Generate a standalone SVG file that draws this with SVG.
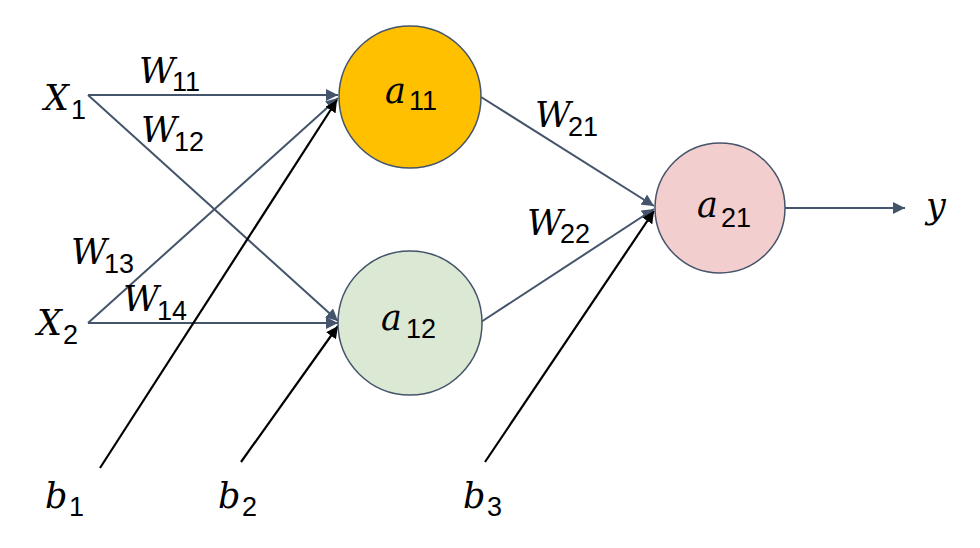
<svg xmlns="http://www.w3.org/2000/svg" width="980" height="548" viewBox="0 0 980 548">
<defs>
<marker id="ag" viewBox="0 0 10 10" refX="10" refY="5" markerWidth="12" markerHeight="12" markerUnits="userSpaceOnUse" orient="auto"><path d="M0,0 L10,5 L0,10 z" fill="#44546A"/></marker>
<marker id="ak" viewBox="0 0 10 10" refX="10" refY="5" markerWidth="12" markerHeight="12" markerUnits="userSpaceOnUse" orient="auto"><path d="M0,0 L10,5 L0,10 z" fill="#000"/></marker>
</defs>
<style>
.c{stroke:#44546A;stroke-width:2;fill:none;marker-end:url(#ag)}
.k{stroke:#000;stroke-width:2.2;fill:none;marker-end:url(#ak)}
.n{stroke:#44546A;stroke-width:1.5}
.v{font-family:"DejaVu Serif",serif;font-style:italic;font-size:35px;fill:#000}
.s{font-family:"Liberation Sans",sans-serif;font-style:normal;font-size:27px}
</style>
<rect width="980" height="548" fill="#fff"/>
<g id="connectors">
<line class="c" x1="88" y1="95" x2="338" y2="95"/>
<line class="c" x1="88" y1="95" x2="338" y2="321"/>
<line class="c" x1="88" y1="323" x2="338" y2="98"/>
<line class="c" x1="88" y1="323" x2="338" y2="323"/>
<line class="k" x1="100" y1="468" x2="337" y2="100"/>
<line class="k" x1="241" y1="462" x2="338" y2="326"/>
<line class="c" x1="481" y1="97" x2="654" y2="206"/>
<line class="c" x1="481" y1="322" x2="654" y2="209"/>
<line class="k" x1="485" y1="462" x2="654" y2="211"/>
<line class="c" x1="785" y1="208" x2="905" y2="208"/>
</g>
<g id="a11"><circle class="n" cx="410" cy="97" r="71" fill="#FFC000"/><text class="v" x="385" y="103">a<tspan class="s" x="409" y="110">11</tspan></text></g>
<g id="a12"><circle class="n" cx="410" cy="323" r="72" fill="#DAE8D4"/><text class="v" x="381" y="330">a<tspan class="s" x="406" y="338">12</tspan></text></g>
<g id="a21"><circle class="n" cx="720" cy="208" r="65" fill="#F2CECE"/><text class="v" x="697" y="217">a<tspan class="s" x="721" y="227">21</tspan></text></g>
<g id="X1"><text class="v" x="44" y="110">X<tspan class="s" x="71" y="119">1</tspan></text></g>
<g id="X2"><text class="v" x="37" y="335">X<tspan class="s" x="63" y="344">2</tspan></text></g>
<g id="y"><text class="v" x="926" y="218">y</text></g>
<g id="b1"><text class="v" x="45" y="508">b<tspan class="s" x="69" y="516">1</tspan></text></g>
<g id="b2"><text class="v" x="218" y="508">b<tspan class="s" x="242" y="516">2</tspan></text></g>
<g id="b3"><text class="v" x="463" y="508">b<tspan class="s" x="487" y="516">3</tspan></text></g>
<g id="labels">
<text class="v" x="139" y="83">W<tspan class="s" x="172" y="91">11</tspan></text>
<text class="v" x="141" y="142">W<tspan class="s" x="174" y="151">12</tspan></text>
<text class="v" x="71" y="264">W<tspan class="s" x="104" y="273">13</tspan></text>
<text class="v" x="123" y="311">W<tspan class="s" x="157" y="320">14</tspan></text>
<text class="v" x="535" y="127">W<tspan class="s" x="568" y="136">21</tspan></text>
<text class="v" x="527" y="235">W<tspan class="s" x="560" y="243">22</tspan></text>
</g>
</svg>
